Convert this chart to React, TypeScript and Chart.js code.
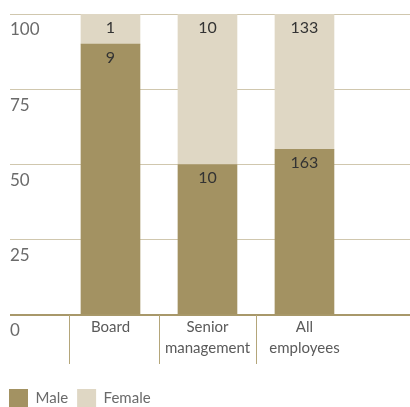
import React, { useEffect, useRef } from "react";
import { Chart, registerables } from "chart.js";

Chart.register(...registerables);

const categories: string[][] = [["Board"], ["Senior", "management"], ["All", "employees"]];
const maleCounts = [9, 10, 163];
const femaleCounts = [1, 10, 133];
const yTicks = [0, 25, 50, 75, 100];

const MALE = "rgb(163,146,98)";
const FEMALE = "rgb(223,215,196)";
const FONT = "Lato";

export default function App() {
  const ref = useRef<HTMLCanvasElement | null>(null);
  useEffect(() => {
    if (!ref.current) return;
    const totals = maleCounts.map((m, i) => m + femaleCounts[i]);
    const malePct = maleCounts.map((m, i) => ({ x: i + 1, y: (m / totals[i]) * 100 }));
    const femalePct = femaleCounts.map((f, i) => ({ x: i + 1, y: (f / totals[i]) * 100 }));
    const rawCounts = [maleCounts, femaleCounts];

    const extras = {
      id: "extras",
      afterDatasetsDraw(chart: any) {
        const ctx = chart.ctx;
        ctx.save();
        ctx.font = `16px ${FONT}`;
        ctx.fillStyle = "#333";
        ctx.textAlign = "center";
        ctx.textBaseline = "middle";
        chart.data.datasets.forEach((_: any, di: number) => {
          const meta = chart.getDatasetMeta(di);
          meta.data.forEach((bar: any, i: number) => {
            const top = Math.min(bar.y, bar.base);
            ctx.fillText(String(rawCounts[di][i]), bar.x, top + 13.5);
          });
        });
        // separators under the x axis
        const xs = chart.scales.x;
        const area = chart.chartArea;
        const first = chart.getDatasetMeta(0).data[0] as any;
        const seps = [first.x - first.width / 2 - 12, xs.getPixelForValue(1.5), xs.getPixelForValue(2.5)];
        ctx.strokeStyle = "rgb(180,166,122)";
        ctx.lineWidth = 1;
        seps.forEach((sx) => {
          const px = Math.round(sx) + 0.5;
          ctx.beginPath();
          ctx.moveTo(px, area.bottom);
          ctx.lineTo(px, area.bottom + 49);
          ctx.stroke();
        });
        ctx.restore();
      },
    };

    const chart = new Chart(ref.current, {
      type: "bar",
      data: {
        datasets: [
          { label: "Male", data: malePct, backgroundColor: MALE, barThickness: 59 },
          { label: "Female", data: femalePct, backgroundColor: FEMALE, barThickness: 59 },
        ],
      },
      options: {
        animation: false,
        responsive: true,
        maintainAspectRatio: false,
        layout: { padding: { left: 0, top: 14, right: 0, bottom: 0 } },
        plugins: {
          tooltip: { enabled: false },
          legend: {
            position: "bottom",
            align: "start",
            maxHeight: 27,
            labels: {
              boxWidth: 19,
              boxHeight: 18,
              padding: 9,
              color: "#6a6a6a",
              font: { family: FONT, size: 15 },
            },
          },
        },
        scales: {
          x: {
            type: "linear",
            stacked: true,
            offset: false,
            min: -0.036,
            max: 4.088,
            grid: { display: false, offset: false },
            border: { display: false },
            afterBuildTicks: (axis: any) => {
              axis.ticks = categories.map((_, i) => ({ value: i + 1 }));
            },
            afterFit: (scale: any) => {
              scale.height = 65;
            },
            ticks: {
              autoSkip: false,
              maxRotation: 0,
              padding: -7,
              color: "#5a5a5a",
              font: { family: FONT, size: 15, lineHeight: 1.45 },
              callback: (v: any) => categories[Number(v) - 1] ?? "",
            },
          },
          y: {
            stacked: true,
            min: 0,
            max: 100,
            afterBuildTicks: (axis: any) => {
              axis.ticks = yTicks.map((v) => ({ value: v }));
            },
            afterFit: (scale: any) => {
              scale.width = 10;
            },
            grid: {
              drawTicks: false,
              color: (c: any) => (c.tick && c.tick.value === 0 ? "rgb(168,152,106)" : "rgb(208,199,174)"),
              lineWidth: (c: any) => (c.tick && c.tick.value === 0 ? 2 : 1),
            },
            border: { display: false },
            ticks: {
              mirror: true,
              padding: 0,
              labelOffset: 16,
              color: "#6a6a6a",
              font: { family: FONT, size: 17 },
            },
          },
        },
      },
      plugins: [extras],
    } as any);
    return () => chart.destroy();
  }, []);
  return (
    <div style={{ position: "absolute", left: 0, top: 0, width: 410, height: 407 }}>
      <canvas ref={ref} />
    </div>
  );
}
